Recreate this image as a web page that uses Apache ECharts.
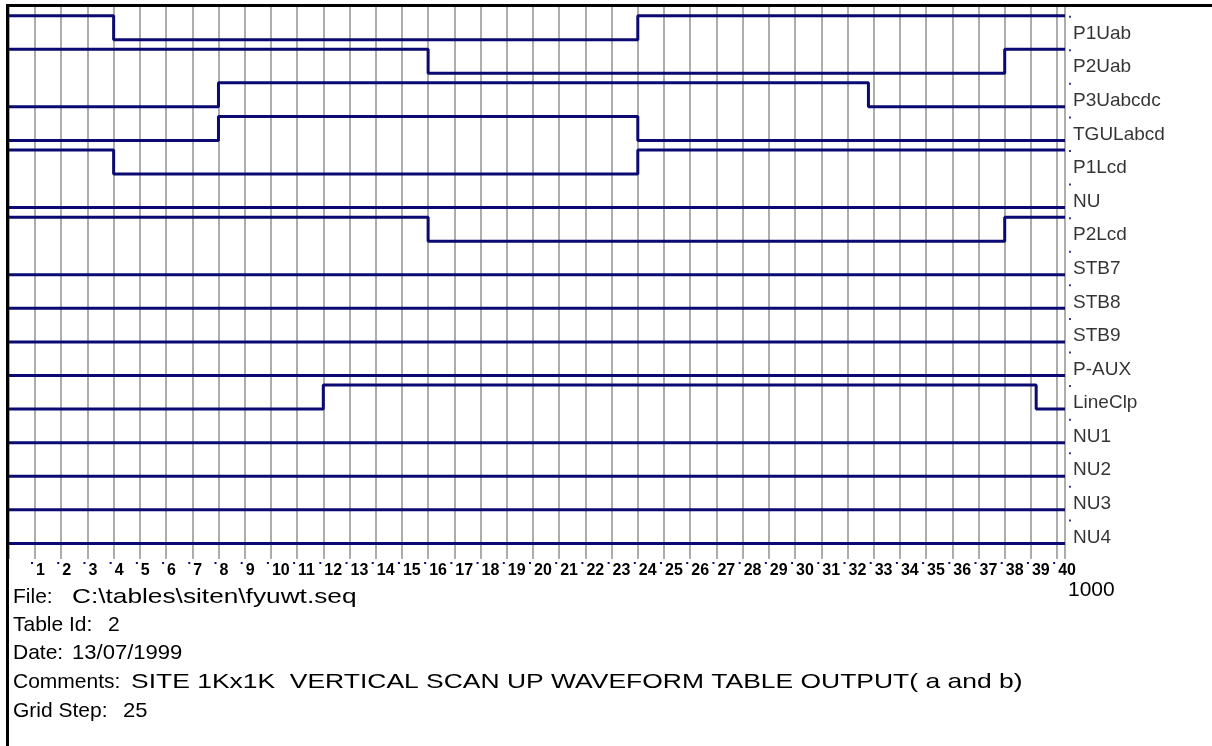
<!DOCTYPE html>
<html>
<head>
<meta charset="utf-8">
<script src="https://cdn.jsdelivr.net/npm/echarts@6/dist/echarts.min.js"></script>
<style>
  html, body { margin: 0; padding: 0; background: #ffffff; }
  #chart { width: 1212px; height: 746px; }
</style>
</head>
<body>
<div id="chart"></div>
<script>
// Waveform table: one digital channel per row, times in table units
const channelNames = ['P1Uab', 'P2Uab', 'P3Uabcdc', 'TGULabcd', 'P1Lcd', 'NU', 'P2Lcd',
  'STB7', 'STB8', 'STB9', 'P-AUX', 'LineClp', 'NU1', 'NU2', 'NU3', 'NU4'];
// level of each channel at time 0 (1 = high, 0 = low)
const startLevels = [1, 1, 0, 0, 1, 0, 1, 0, 0, 0, 0, 0, 0, 0, 0, 0];
// times at which each channel toggles
const edgeTimes = [
  [100, 600], [400, 950], [200, 820], [200, 600], [100, 600], [],
  [400, 950], [], [], [], [], [300, 980], [], [], [], []
];
const gridStep = 25;
const tableEnd = 1000;
const stepLabels = ['1', '2', '3', '4', '5', '6', '7', '8', '9', '10',
  '11', '12', '13', '14', '15', '16', '17', '18', '19', '20',
  '21', '22', '23', '24', '25', '26', '27', '28', '29', '30',
  '31', '32', '33', '34', '35', '36', '37', '38', '39', '40'];
const fileName = 'C:\\tables\\siten\\fyuwt.seq';
const tableId = '2';
const tableDate = '13/07/1999';
const comments = 'SITE 1Kx1K  VERTICAL SCAN UP WAVEFORM TABLE OUTPUT( a and b)';

// ---- drawing ----
const NAVY = '#0a0a72';
const FONT = '"Liberation Sans", Arial, sans-serif';
const X_MAX = 1007.5;          // lines run a little past the table end
const SWING = 0.715;           // low level sits this far below high, in row units
const Y_MIN = -0.3, Y_MAX = 16.18;
const LABEL_SHIFT = 3.8;       // tick labels start just left of their grid line

const tickValues = stepLabels.map((s, k) => (k + 1) * gridStep);

const waveSeries = channelNames.map((name, i) => {
  let lvl = startLevels[i];
  const pts = [[0, lvl]];
  edgeTimes[i].forEach(t => { lvl = 1 - lvl; pts.push([t, lvl]); });
  pts.push([X_MAX, lvl]);
  return {
    type: 'line', name, step: 'end', symbol: 'none', showSymbol: false,
    clip: false, silent: true, z: 3,
    data: pts.map(([t, b]) => [t, i + (1 - b) * SWING]),
    lineStyle: { color: NAVY, width: 3 }
  };
});

const nameSeries = {
  type: 'scatter', clip: false, silent: true, z: 4,
  symbol: 'rect', symbolSize: 2, symbolOffset: [5, 1],
  itemStyle: { color: NAVY },
  data: channelNames.map((n, i) => [X_MAX, i]),
  label: {
    show: true, position: 'right', distance: 2, offset: [0, 17],
    formatter: p => channelNames[p.dataIndex],
    color: '#000', fontSize: 19, fontFamily: FONT
  }
};

const endMarker = {
  type: 'line', data: [], clip: false, silent: true, z: 6,
  markLine: {
    silent: true, symbol: ['none', 'none'], animation: false,
    label: { show: false },
    lineStyle: { color: '#e41b1b', width: 2, type: 'solid' },
    data: [[{ coord: [tableEnd, Y_MIN] }, { coord: [tableEnd, Y_MAX + 0.54] }]]
  }
};

function infoText(x, y, text, sx) {
  return {
    type: 'text', x, y, scaleX: sx, silent: true,
    style: { text, fill: '#000', fontSize: 21, fontFamily: FONT, verticalAlign: 'middle' }
  };
}

const option = {
  backgroundColor: '#ffffff',
  animation: false,
  grid: { left: 8.8, right: 147, top: 5.6, bottom: 187, containLabel: false, outerBoundsMode: 'none' },
  xAxis: [
    {
      type: 'value', min: 0, max: X_MAX, interval: gridStep,
      axisLine: { show: false }, axisTick: { show: false }, axisLabel: { show: false },
      splitLine: { show: true, lineStyle: { color: '#adadad', width: 2 } }
    },
    {
      type: 'value', min: LABEL_SHIFT, max: X_MAX + LABEL_SHIFT, position: 'bottom',
      axisLine: { show: false }, axisTick: { show: false }, splitLine: { show: false },
      name: String(tableEnd), nameLocation: 'end', nameGap: 3,
      nameTextStyle: { color: '#000', fontSize: 21, fontFamily: FONT, align: 'left',
        verticalAlign: 'top', padding: [21, 0, 0, 0] },
      axisLabel: {
        show: true, customValues: tickValues, align: 'left', margin: 3,
        formatter: v => '{d| }{s| }{n|' + stepLabels[Math.round(v / gridStep) - 1] + '}',
        rich: {
          d: { width: 2, height: 2, backgroundColor: NAVY, verticalAlign: 'top' },
          s: { width: 3 },
          n: { fontSize: 16, fontWeight: 'bold', color: '#000', fontFamily: FONT, lineHeight: 17 }
        }
      }
    }
  ],
  yAxis: {
    type: 'value', inverse: true, min: Y_MIN, max: Y_MAX, show: false,
    splitLine: { show: false }
  },
  series: [...waveSeries, nameSeries, endMarker],
  graphic: [
    { type: 'rect', silent: true, z: 100, shape: { x: 6, y: 4, width: 3, height: 742 }, style: { fill: '#000' } },
    { type: 'rect', silent: true, z: 100, shape: { x: 6, y: 4, width: 1206, height: 3 }, style: { fill: '#000' } },
    infoText(13, 597, 'File:', 1.0),
    infoText(72, 597, fileName, 1.25),
    infoText(13, 625, 'Table Id:', 1.0),
    infoText(108, 625, tableId, 1.0),
    infoText(13, 653, 'Date:', 1.0),
    infoText(72, 653, tableDate, 1.05),
    infoText(13, 682, 'Comments:', 1.0),
    infoText(131, 682, comments, 1.26),
    infoText(13, 711, 'Grid Step:', 1.0),
    infoText(123, 711, String(gridStep), 1.05)
  ]
};

const chart = echarts.init(document.getElementById('chart'), null, { renderer: 'canvas' });
chart.setOption(option);
</script>
</body>
</html>
